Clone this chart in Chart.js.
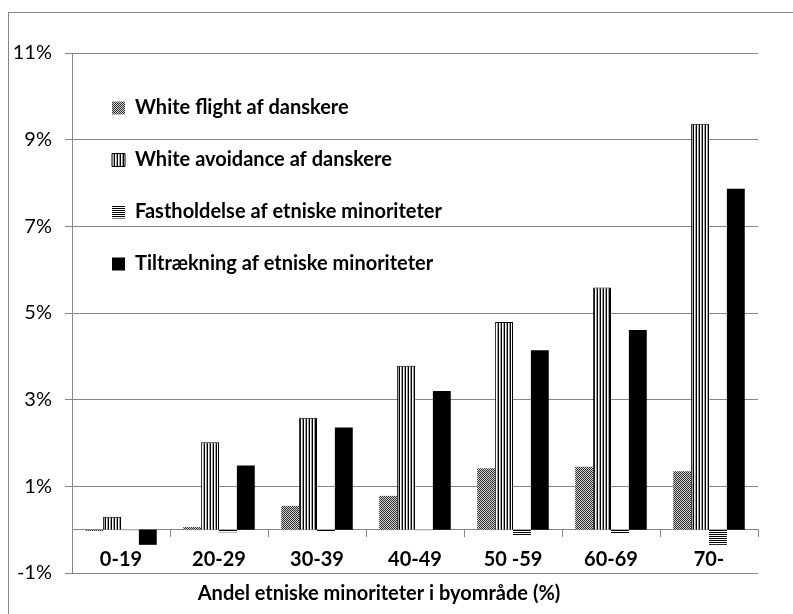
<!DOCTYPE html>
<html>
<head>
<meta charset="utf-8">
<script src="https://cdn.jsdelivr.net/npm/chart.js@4"></script>
<style>
  html, body { margin: 0; padding: 0; background: #fff; }
  #wrap { width: 793px; height: 614px; }
</style>
</head>
<body>
<div id="wrap"><canvas id="chart" width="793" height="614"></canvas></div>
<script>
const categories = ['0-19', '20-29', '30-39', '40-49', '50 -59', '60-69', '70-'];
const whiteFlight = [-0.03, 0.06, 0.55, 0.78, 1.42, 1.45, 1.35];
const whiteAvoidance = [0.30, 2.02, 2.58, 3.78, 4.79, 5.59, 9.37];
const fastholdelse = [-0.01, -0.06, -0.04, -0.01, -0.13, -0.09, -0.35];
const tiltraekning = [-0.35, 1.48, 2.36, 3.20, 4.14, 4.61, 7.87];
const yTicks = [-1, 1, 3, 5, 7, 9, 11];

const GRID = '#868686';

// small tiles for the excel-ish fill patterns
function makePattern(size, draw) {
  const c = document.createElement('canvas');
  c.width = size; c.height = size;
  const g = c.getContext('2d');
  draw(g);
  return g.createPattern(c, 'repeat');
}
const dotted = makePattern(2, g => {
  g.fillStyle = '#d0d0d0'; g.fillRect(0, 0, 2, 2);
  g.fillStyle = '#303030'; g.fillRect(0, 0, 1, 1); g.fillRect(1, 1, 1, 1);
});
const vStripes = makePattern(3, g => {
  g.fillStyle = '#ffffff'; g.fillRect(0, 0, 3, 3);
  g.fillStyle = '#000000'; g.fillRect(0, 0, 1, 3);
  g.fillStyle = '#a0a0a0'; g.fillRect(2, 0, 1, 3);
});
const hStripes = makePattern(2, g => {
  g.fillStyle = '#ffffff'; g.fillRect(0, 0, 2, 2);
  g.fillStyle = '#000000'; g.fillRect(0, 0, 2, 1);
});

Chart.defaults.font.family = 'Lato';
Chart.defaults.font.size = 20;
Chart.defaults.color = '#000';

// white background, outer frame, and legend moved into the plot's upper left
const framePlugin = {
  id: 'frame',
  beforeDraw(chart) {
    const ctx = chart.ctx;
    ctx.save();
    ctx.fillStyle = '#fff';
    ctx.fillRect(0, 0, chart.width, chart.height);
    ctx.strokeStyle = GRID;
    ctx.lineWidth = 1;
    ctx.strokeRect(8.5, 12.5, chart.width + 20, chart.height + 20);
    ctx.restore();
    const lg = chart.legend, a = chart.chartArea;
    lg.left = a.left + 8;
    lg.top = a.top + 13;
  }
};

new Chart(document.getElementById('chart'), {
  type: 'bar',
  data: {
    labels: categories,
    datasets: [
      { label: 'White flight af danskere', data: whiteFlight, backgroundColor: dotted, borderWidth: 0 },
      { label: 'White avoidance af danskere', data: whiteAvoidance, backgroundColor: vStripes, borderColor: '#000', borderWidth: 1 },
      { label: 'Fastholdelse af etniske minoriteter', data: fastholdelse, backgroundColor: hStripes, borderWidth: 0 },
      { label: 'Tiltrækning af etniske minoriteter', data: tiltraekning, backgroundColor: '#000', borderWidth: 0 }
    ]
  },
  options: {
    responsive: false,
    animation: false,
    categoryPercentage: 0.73,
    barPercentage: 1.0,
    layout: { padding: { left: 0, right: 35, top: 53, bottom: 0 } },
    scales: {
      x: {
        position: { y: 0 },
        offset: true,
        grid: { offset: true, drawOnChartArea: false, drawTicks: true, tickLength: 7, color: GRID },
        border: { display: true, color: GRID },
        ticks: { padding: 11, font: { weight: 'bold' }, maxRotation: 0 }
      },
      y: {
        min: -1,
        max: 11,
        afterBuildTicks: s => { s.ticks = yTicks.map(v => ({ value: v })); },
        afterFit: s => { s.width = 72; },
        grid: { color: GRID, tickLength: 7, drawTicks: true },
        border: { display: true, color: GRID },
        ticks: { padding: 13, callback: v => v + '%' }
      }
    },
    plugins: {
      legend: {
        position: 'chartArea',
        align: 'start',
        labels: {
          boxWidth: 13,
          boxHeight: 13,
          padding: 32,
          color: '#000',
          font: { weight: 'bold' }
        }
      },
      title: {
        display: true,
        position: 'bottom',
        text: 'Andel etniske minoriteter i byområde (%)',
        color: '#000',
        font: { weight: 'bold' },
        padding: { top: 9, bottom: 8 }
      },
      tooltip: { enabled: false }
    }
  },
  plugins: [framePlugin]
});
</script>
</body>
</html>
